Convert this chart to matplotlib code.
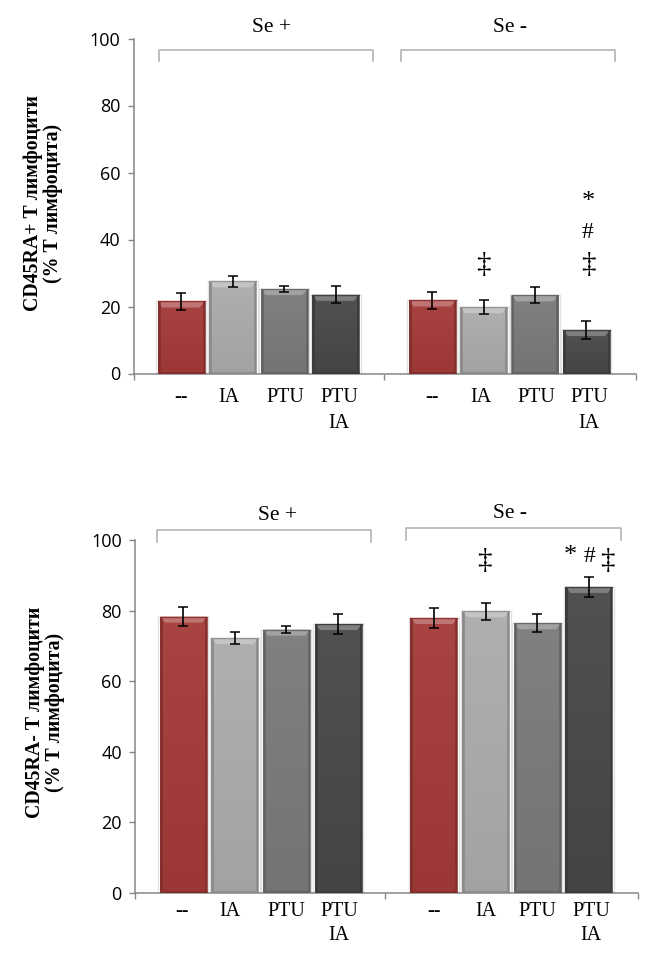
import numpy as np
import matplotlib
matplotlib.use('Agg')
import matplotlib.pyplot as plt
from matplotlib.lines import Line2D
from matplotlib.patches import Polygon
from matplotlib.colors import to_rgb

W, H = 660, 958

# values
top_values = [21.5, 27.5, 25.2, 23.5, 21.8, 19.8, 23.3, 13.0]
top_errors = [2.6, 1.6, 1.0, 2.6, 2.6, 2.1, 2.4, 2.6]
bottom_values = [78.3, 72.2, 74.6, 76.2, 77.9, 79.8, 76.4, 86.7]
bottom_errors = [2.7, 1.6, 1.0, 2.8, 2.7, 2.4, 2.6, 2.8]
categories = ['--', 'IA', 'PTU', 'PTU\nIA', '--', 'IA', 'PTU', 'PTU\nIA']
y_ticks = [0, 20, 40, 60, 80, 100]
group_names = ['Se +', 'Se -']
top_ylabel = 'CD45RA+ Т лимфоцити\n(% Т лимфоцита)'
bottom_ylabel = 'CD45RA- Т лимфоцити\n(% Т лимфоцита)'

bar_colors = ['#a33a38', '#ababab', '#7a7a7a', '#484848'] * 2
SERIF = 'Liberation Serif'
SANS = 'Open Sans'
AXIS_GRAY = '#868686'
BRACKET_GRAY = '#b4b4b4'


def fx(px):
    return px / W


def fy(py):
    return 1 - py / H


def shade(color, amount):
    # amount > 0 goes to white, amount < 0 goes to black
    rgb = np.array(to_rgb(color))
    if amount >= 0:
        return tuple(rgb + (1 - rgb) * amount)
    return tuple(rgb * (1 + amount))


def draw_bar(ax, patch, color, px_per_unit):
    x0, w = patch.get_x(), patch.get_width()
    h = patch.get_height()
    grad = np.linspace(0, 1, 64)[:, None, None]
    light = np.array(shade(color, 0.05))
    dark = np.array(shade(color, -0.05))
    img = light + (dark - light) * grad
    im = ax.imshow(img, extent=(x0, x0 + w, 0, h), aspect='auto', origin='upper', zorder=2)
    im.set_clip_path(patch)

    # bevel: lighter strip on top, darker edges on the sides and bottom
    bevel = 6 / px_per_unit
    inset = 5
    ax.add_patch(Polygon([(x0, h), (x0 + w, h), (x0 + w - inset, h - bevel), (x0 + inset, h - bevel)],
                         closed=True, fc=shade(color, 0.3), ec='none', zorder=3))
    edge = shade(color, -0.2)
    ax.plot([x0 + 1, x0 + 1], [0, h], color=edge, lw=1.8, zorder=3, solid_capstyle='butt')
    ax.plot([x0 + w - 1, x0 + w - 1], [0, h], color=edge, lw=1.8, zorder=3, solid_capstyle='butt')
    ax.plot([x0, x0 + w], [1 / px_per_unit, 1 / px_per_unit], color=edge, lw=1.8, zorder=3,
            solid_capstyle='butt')
    ax.plot([x0, x0 + w], [h, h], color=shade(color, -0.12), lw=1, zorder=3)
    # pale halo around the bar
    ax.plot([x0 - 1.5, x0 - 1.5], [0, h], color='#e2e2e2', lw=1, zorder=1)
    ax.plot([x0 + w + 1.5, x0 + w + 1.5], [0, h], color='#e2e2e2', lw=1, zorder=1)


def panel(fig, x_left, x_right, y_top, y_bottom, centers, values, errors, mid_tick):
    ax = fig.add_axes([fx(x_left), fy(y_bottom), fx(x_right - x_left), (y_bottom - y_top) / H])
    ax.set_xlim(x_left, x_right)  # x in figure pixels, y in data units
    ax.set_ylim(0, 100)
    ax.patch.set_alpha(0)

    px_per_unit = (y_bottom - y_top) / 100
    bars = ax.bar(centers, values, width=47, color=bar_colors, zorder=2)
    for patch, color in zip(bars, bar_colors):
        draw_bar(ax, patch, color, px_per_unit)
    ax.set_xlim(x_left, x_right)
    ax.set_ylim(0, 100)

    ax.errorbar(centers, values, yerr=errors, fmt='none', ecolor='black', elinewidth=1.2,
                capsize=3.6, capthick=1.1, zorder=5)

    for side in ('top', 'right'):
        ax.spines[side].set_visible(False)
    for side in ('left', 'bottom'):
        ax.spines[side].set_color(AXIS_GRAY)
        ax.spines[side].set_linewidth(1.1)

    ax.set_yticks(y_ticks)
    ax.set_xticks([x_left, mid_tick, x_right])
    ax.set_xticklabels([])
    ax.tick_params(axis='both', color=AXIS_GRAY, width=1, length=4.5)
    ax.tick_params(axis='y', labelsize=13, labelcolor='black', pad=5)
    for tick_label in ax.get_yticklabels():
        tick_label.set_fontfamily(SANS)
    return ax


def bracket(fig, x0, x1, y_line, y_end):
    fig.add_artist(Line2D([fx(x0), fx(x0), fx(x1), fx(x1)],
                          [fy(y_end), fy(y_line), fy(y_line), fy(y_end)],
                          color=BRACKET_GRAY, lw=1.2))


def label(fig, x, y, text, size=14.5, **kw):
    kw.setdefault('family', SERIF)
    fig.text(fx(x), fy(y), text, fontsize=size, ha='center', va='center', **kw)


def category_labels(fig, xs, y1, y2):
    for x, cat in zip(xs, categories):
        parts = cat.split('\n')
        label(fig, x, y1, parts[0])
        if len(parts) > 1:
            label(fig, x, y2, parts[1])


fig = plt.figure(figsize=(W / 100, H / 100), dpi=100, facecolor='white')

# top panel
top_centers = [181, 232.5, 284, 335.5, 432, 483.5, 535, 586.5]
panel(fig, 133.5, 636, 38.5, 373.5, top_centers, top_values, top_errors, 384)
bracket(fig, 158.5, 373, 49.5, 61)
bracket(fig, 401, 615, 49.5, 61)
label(fig, 271, 28, group_names[0], size=15.5)
label(fig, 510, 27, group_names[1], size=15.5)
category_labels(fig, [181, 229, 285, 339, 432, 481, 536, 589], 397, 423)
label(fig, 43, 203, top_ylabel, size=14.3, rotation=90, fontweight='bold', linespacing=1.05,
      multialignment='center')
label(fig, 483, 265, '‡', size=21)
label(fig, 588, 202, '*', size=19)
label(fig, 588, 233, '#', size=17)
label(fig, 588, 265, '‡', size=21)

# bottom panel
bottom_centers = [183.5, 235, 286.5, 338.5, 434, 486, 537.5, 589]
panel(fig, 135, 638, 540, 893, bottom_centers, bottom_values, bottom_errors, 385)
bracket(fig, 157, 371, 530, 542)
bracket(fig, 405.5, 620.5, 528, 540)
label(fig, 277, 515, group_names[0], size=15.5)
label(fig, 510, 513, group_names[1], size=15.5)
category_labels(fig, [182, 230, 286, 339, 434, 486, 537, 591], 912, 936)
label(fig, 45, 712, bottom_ylabel, size=14.3, rotation=90, fontweight='bold', linespacing=1.05,
      multialignment='center')
label(fig, 484, 561, '‡', size=21)
label(fig, 570, 556, '*', size=19)
label(fig, 589, 557, '#', size=17)
label(fig, 607, 561, '‡', size=21)

fig.savefig('out.png', dpi=100)
